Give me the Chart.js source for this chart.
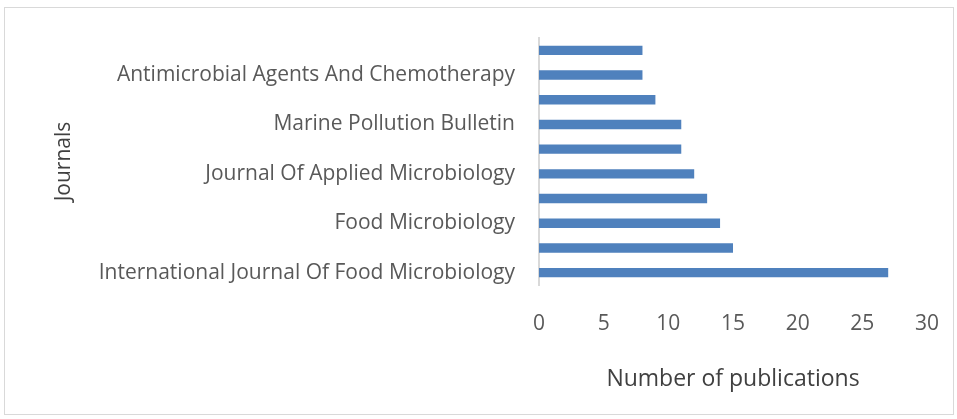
<!DOCTYPE html>
<html>
<head>
<meta charset="utf-8">
<script src="https://cdn.jsdelivr.net/npm/chart.js@4.4.1/dist/chart.umd.min.js"></script>
<style>
  html, body { margin: 0; padding: 0; background: #ffffff; }
  #frame { position: absolute; left: 4px; top: 7px; width: 950px; height: 408px; border: 1px solid #d9d9d9; box-sizing: border-box; }
  #wrap { position: absolute; left: 0; top: 0; width: 957px; height: 419px; }
</style>
</head>
<body>
<div id="frame"></div>
<div id="wrap"><canvas id="c" width="957" height="419"></canvas></div>
<script>
// Categories, listed top to bottom as drawn
const journals = [
  "Applied And Environmental Microbiology",
  "Antimicrobial Agents And Chemotherapy",
  "Science Of The Total Environment",
  "Marine Pollution Bulletin",
  "Journal Of Food Protection",
  "Journal Of Applied Microbiology",
  "Food Control",
  "Food Microbiology",
  "Frontiers In Microbiology",
  "International Journal Of Food Microbiology"
];
// Number of publications per journal
const publications = [8, 8, 9, 11, 11, 12, 13, 14, 15, 27];
const xTicks = [0, 5, 10, 15, 20, 25, 30];

const fontFamily = "'Open Sans', 'Liberation Sans', sans-serif";
const textColor = "#595959";

new Chart(document.getElementById('c'), {
  type: 'bar',
  data: {
    labels: journals,
    datasets: [{
      data: publications,
      backgroundColor: '#4f81bd',
      borderWidth: 0,
      barPercentage: 0.38,
      categoryPercentage: 1.0
    }]
  },
  options: {
    indexAxis: 'y',
    responsive: false,
    animation: false,
    layout: { padding: { top: 38, right: 30, bottom: 20, left: 0 } },
    plugins: { legend: { display: false }, tooltip: { enabled: false } },
    scales: {
      x: {
        min: 0, max: 30,
        afterBuildTicks: (s) => { s.ticks = xTicks.map(v => ({ value: v })); },
        grid: { display: false, drawTicks: false },
        border: { display: false },
        ticks: { color: textColor, font: { family: fontFamily, size: 21 }, padding: 26 },
        title: { display: true, text: 'Number of publications', color: '#404040', font: { family: fontFamily, size: 23 }, padding: { bottom: 6 } },
        afterFit: (s) => { s.height = 399 - 285; s.paddingLeft = 0; s.paddingRight = 0; }
      },
      y: {
        grid: { display: false, drawTicks: false },
        border: { display: true, color: '#d9d9d9', width: 2 },
        ticks: {
          autoSkip: false,
          color: textColor,
          font: { family: fontFamily, size: 21 },
          padding: 24,
          callback: function (v, i) { return i % 2 === 1 ? this.getLabelForValue(v) : ''; }
        },
        title: { display: true, text: 'Journals', color: '#404040', font: { family: fontFamily, size: 21 }, padding: { top: 51 } },
        afterFit: (s) => { s.width = 539; }
      }
    }
  }
});
</script>
</body>
</html>
